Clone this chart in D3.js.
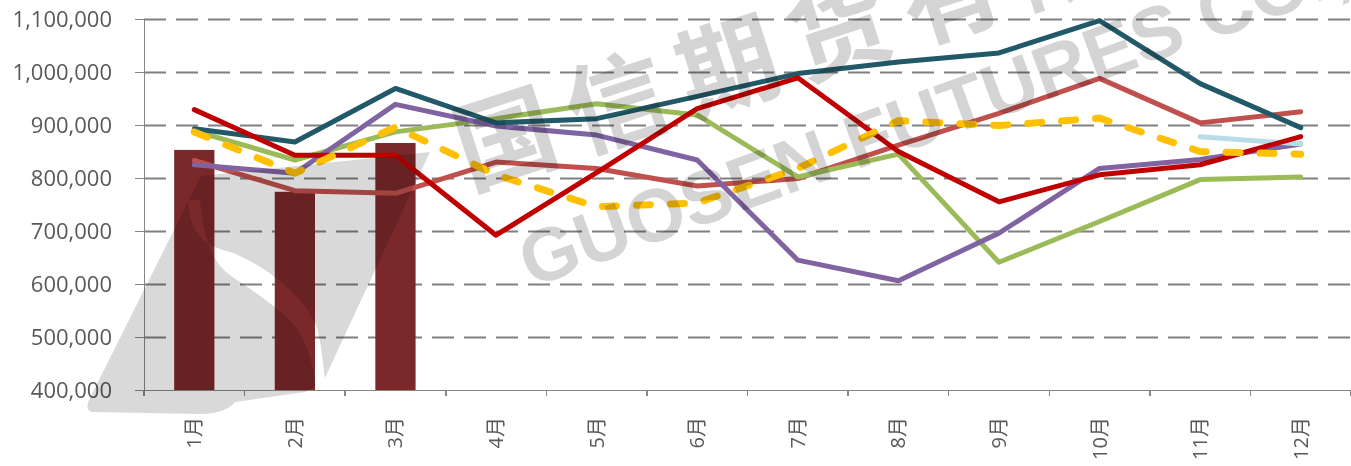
<!DOCTYPE html>
<html lang="zh">
<head>
<meta charset="UTF-8">
<title>月度走势</title>
<style>
    body { margin: 0; background: #fff; }
    svg { display: block; }
    .axis text { font-family: "Open Sans", "Noto Sans CJK SC", sans-serif; fill: #595959; }
    .axis path, .axis line { stroke: #868686; stroke-width: 1.5; shape-rendering: crispEdges; }
    .grid line { stroke: #808080; stroke-width: 2; stroke-dasharray: 22 10; }
    .grid path { display: none; }
    .overlay { mix-blend-mode: multiply; pointer-events: none; }
</style>
</head>
<body>
<script src="https://cdn.jsdelivr.net/npm/d3@7"></script>
<script>
// 数据
var months = ['1月', '2月', '3月', '4月', '5月', '6月', '7月', '8月', '9月', '10月', '11月', '12月']
var yTicks = [400000, 500000, 600000, 700000, 800000, 900000, 1000000, 1100000]

var barValues = [853000, 774000, 866000]

var seriesA = [833000, 776000, 771000, 830000, 818000, 785000, 799000, 862000, 922000, 988000, 904000, 925000]
var seriesB = [889000, 834000, 887000, 912000, 940000, 919000, 802000, 845000, 641000, 718000, 797000, 802000]
var seriesC = [825000, 809000, 939000, 898000, 881000, 834000, 645000, 606000, 696000, 818000, 835000, 864000]
var seriesD = [893000, 868000, 969000, 904000, 912000, 954000, 997000, 1019000, 1036000, 1097000, 978000, 895000]
var seriesE = [null, null, null, null, null, null, null, null, null, null, 878000, 864000]
var seriesF = [929000, 843000, 843000, 692000, 810000, 931000, 989000, 850000, 755000, 806000, 825000, 878000]
var seriesAvg = [887000, 809000, 896000, 806000, 746000, 753000, 818000, 908000, 899000, 913000, 850000, 845000]

// 画布
var width = 1351, height = 466
var margin = { top: 19, right: 0, bottom: 76, left: 144 }

var svg = d3.select('body').append('svg')
    .attr('width', width)
    .attr('height', height)

var x = d3.scaleBand()
    .domain(months)
    .range([margin.left, width - margin.right])
    .padding(0)

var y = d3.scaleLinear()
    .domain([400000, 1100000])
    .range([height - margin.bottom, margin.top])

// 网格线
svg.append('g')
    .attr('class', 'grid')
    .attr('transform', 'translate(' + margin.left + ',0)')
    .call(d3.axisLeft(y).tickValues(yTicks.slice(1)).tickSize(-(width - margin.left - margin.right)).tickFormat(''))

// 柱子
var barW = x.bandwidth() * 0.4
svg.selectAll('.bar')
    .data(barValues)
    .enter()
    .append('rect')
    .attr('class', 'bar')
    .attr('x', function (d, i) { return x(months[i]) + (x.bandwidth() - barW) / 2 })
    .attr('y', function (d) { return y(d) })
    .attr('width', barW)
    .attr('height', function (d) { return y(400000) - y(d) })
    .attr('fill', '#7a2829')

// 折线
var line = d3.line()
    .defined(function (d) { return d != null })
    .x(function (d, i) { return x(months[i]) + x.bandwidth() / 2 })
    .y(function (d) { return y(d) })

var series = [
    { values: seriesA, color: '#c0504d', w: 5 },
    { values: seriesB, color: '#9bbb59', w: 5 },
    { values: seriesC, color: '#8064a2', w: 5 },
    { values: seriesD, color: '#215968', w: 5 },
    { values: seriesE, color: '#b7dee8', w: 5 },
    { values: seriesF, color: '#c00000', w: 5 },
    { values: seriesAvg, color: '#ffc000', w: 7, dash: '14 20' }
]

svg.selectAll('.line')
    .data(series)
    .enter()
    .append('path')
    .attr('class', 'line')
    .attr('d', function (d) { return line(d.values) })
    .attr('fill', 'none')
    .attr('stroke', function (d) { return d.color })
    .attr('stroke-width', function (d) { return d.w })
    .attr('stroke-linecap', 'round')
    .attr('stroke-linejoin', 'round')
    .attr('stroke-dasharray', function (d) { return d.dash || null })

// y 轴
var yAxis = svg.append('g')
    .attr('class', 'axis')
    .attr('transform', 'translate(' + margin.left + ',0)')
    .call(d3.axisLeft(y).tickValues(yTicks).tickSize(9).tickSizeOuter(0).tickPadding(23).tickFormat(d3.format(',')))
yAxis.selectAll('text').style('font-size', '22px')

// x 轴
var xAxis = svg.append('g')
    .attr('class', 'axis')
    .attr('transform', 'translate(0,' + y(400000) + ')')
    .call(d3.axisBottom(x).tickSize(0).tickSizeOuter(0))
xAxis.selectAll('text')
    .style('font-size', '20px')
    .attr('text-anchor', 'end')
    .attr('transform', 'rotate(-90)')
    .attr('x', -27)
    .attr('y', 0)
    .attr('dy', '0.35em')

// x 轴刻度 (类别边界)
var bounds = months.map(function (m) { return x(m) }).concat([x.range()[1]])
xAxis.selectAll('.bound')
    .data(bounds)
    .enter()
    .append('line')
    .attr('class', 'bound')
    .attr('x1', function (d) { return d })
    .attr('x2', function (d) { return d })
    .attr('y1', 0)
    .attr('y2', 6)

// 水印 logo (正片叠底覆盖)
var logo = svg.append('g').attr('class', 'overlay')
logo.append('path')
    .attr('d', 'M92,412 Q84,410 90,398 L201,176 L430,152 L323,382 L305,392 L235,402 Q225,414 200,414 Z')
    .attr('fill', '#d9d9d9')
logo.append('path')
    .attr('d', 'M188,200 C190,232 200,244 230,252 C258,262 300,290 316,325 C322,345 324,370 326,392 ' +
               'L316,392 C314,365 308,340 290,320 C275,306 255,292 240,282 C225,272 205,262 200,200 Z')
    .attr('fill', '#ffffff')

// 文字水印
var wm = svg.append('g').attr('class', 'overlay')
wm.append('text')
    .attr('transform', 'translate(469,189) rotate(-18)')
    .attr('font-family', '"Noto Sans CJK SC", sans-serif')
    .attr('font-weight', 'bold')
    .attr('font-size', 100)
    .attr('letter-spacing', 17)
    .attr('fill', '#d4d4d4')
    .text('国信期货有限公司')
wm.append('text')
    .attr('transform', 'translate(531,288) rotate(-20)')
    .attr('font-family', '"Liberation Sans", Arial, sans-serif')
    .attr('font-weight', 'bold')
    .attr('font-size', 75)
    .attr('fill', '#d4d4d4')
    .text('GUOSEN FUTURES CO.,LTD')
</script>
</body>
</html>
